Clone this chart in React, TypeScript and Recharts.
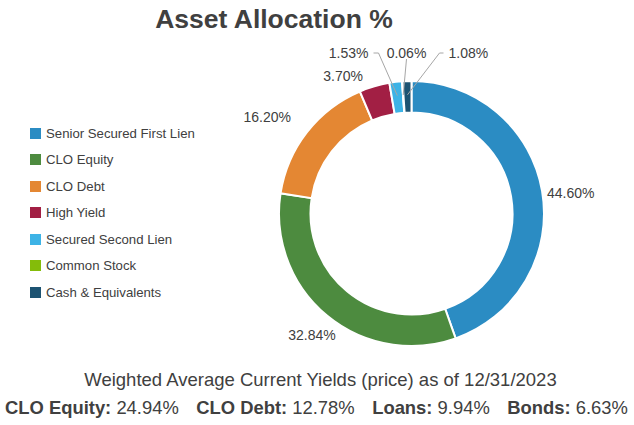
import React from 'react'
import { PieChart, Pie, Cell } from 'recharts'

const categories = [
  'Senior Secured First Lien',
  'CLO Equity',
  'CLO Debt',
  'High Yield',
  'Secured Second Lien',
  'Common Stock',
  'Cash & Equivalents',
]
const allocation = [44.6, 32.84, 16.2, 3.7, 1.53, 0.06, 1.08]
const COLORS = ['#2b8cc3', '#4d8b3f', '#e48733', '#a21f44', '#3db3e6', '#84bc0a', '#1d5372']

const yieldLabels = ['CLO Equity:', 'CLO Debt:', 'Loans:', 'Bonds:']
const yieldValues = ['24.94%', '12.78%', '9.94%', '6.63%']

const TEXT = '#404040'
const FONT = '"Liberation Sans", Arial, sans-serif'
const RADIAN = Math.PI / 180

const data = categories.map((name, i) => ({ name, value: allocation[i] }))

// small nudges so outside labels sit where the original layout put them
const NUDGE: [number, number][] = [[0, 3], [12, 4], [-12, -6], [-10, 0]]

function renderLabel(props: any) {
  const { cx, cy, midAngle, outerRadius, innerRadius, index, value } = props
  const text = `${Number(value).toFixed(2)}%`
  const cos = Math.cos(-midAngle * RADIAN)
  const sin = Math.sin(-midAngle * RADIAN)
  // tiny slices near the top get a row of labels with leader lines
  if (index >= 4) {
    const ty = cy - outerRadius - 28
    const mr = (innerRadius + outerRadius) / 2 + 2
    const ex = cx + mr * cos
    const ey = cy + mr * sin
    let tx = cx
    let anchor: 'start' | 'middle' | 'end' = 'middle'
    let pts = ''
    if (index === 4) {
      tx = cx - 43
      anchor = 'end'
      pts = `${cx - 38},${ty} ${cx - 33},${ty} ${ex},${ey}`
    } else if (index === 5) {
      tx = cx - 5
      pts = `${cx - 5},${ty + 6} ${ex},${ey}`
    } else {
      tx = cx + 37
      anchor = 'start'
      pts = `${cx + 32},${ty} ${cx + 28},${ty} ${ex},${ey}`
    }
    return (
      <g key={`lbl-${index}`}>
        <polyline points={pts} fill="none" stroke="#a6a6a6" strokeWidth={1} />
        <text x={tx} y={ty} fill={TEXT} fontSize={14} fontFamily={FONT} textAnchor={anchor} dominantBaseline="central">
          {text}
        </text>
      </g>
    )
  }
  const r = outerRadius + 5
  const [nx, ny] = NUDGE[index] || [0, 0]
  const x = cx + r * cos + nx
  const y = cy + r * sin + ny
  const anchor = cos >= 0 ? 'start' : 'end'
  let dy = 0
  if (sin > 0.5) dy = 12
  else if (sin < -0.5) dy = -6
  return (
    <text key={`lbl-${index}`} x={x} y={y + dy} fill={TEXT} fontSize={14} fontFamily={FONT} textAnchor={anchor} dominantBaseline="central">
      {text}
    </text>
  )
}

function LegendBox() {
  return (
    <div style={{ position: 'absolute', left: 30, top: 120, fontSize: 13.2, color: TEXT }}>
      {categories.map((name, i) => (
        <div key={name} style={{ display: 'flex', alignItems: 'center', height: 26.5 }}>
          <span style={{ width: 11, height: 11, background: COLORS[i], display: 'inline-block', marginRight: 5 }} />
          <span>{name}</span>
        </div>
      ))}
    </div>
  )
}

export default function App() {
  return (
    <div style={{ position: 'absolute', left: 0, top: 0, width: 634, height: 425, background: '#fff', fontFamily: FONT }}>
      <div style={{ position: 'absolute', left: 0, top: 4, width: 548, textAlign: 'center', fontSize: 26.5, fontWeight: 'bold', color: TEXT }}>
        Asset Allocation %
      </div>
      <PieChart width={634} height={360} margin={{ top: 0, right: 0, bottom: 0, left: 0 }} style={{ position: 'absolute', left: 0, top: 0 }}>
        <Pie
          data={data}
          dataKey="value"
          nameKey="name"
          cx={411.5}
          cy={213.5}
          innerRadius={101}
          outerRadius={132.5}
          startAngle={90}
          endAngle={-270}
          stroke="#fff"
          strokeWidth={2}
          label={renderLabel}
          labelLine={false}
          isAnimationActive={false}
        >
          {data.map((d, i) => (
            <Cell key={d.name} fill={COLORS[i]} />
          ))}
        </Pie>
      </PieChart>
      <LegendBox />
      <div style={{ position: 'absolute', left: 0, top: 369, width: 641, textAlign: 'center', fontSize: 18.5, color: TEXT }}>
        Weighted Average Current Yields (price) as of 12/31/2023
      </div>
      <div style={{ position: 'absolute', left: 5, top: 397, fontSize: 18.4, color: TEXT, whiteSpace: 'nowrap' }}>
        {yieldLabels.map((l, i) => (
          <span key={l} style={{ marginRight: i < yieldLabels.length - 1 ? 17.5 : 0 }}>
            <b>{l}</b> {yieldValues[i]}
          </span>
        ))}
      </div>
    </div>
  )
}
